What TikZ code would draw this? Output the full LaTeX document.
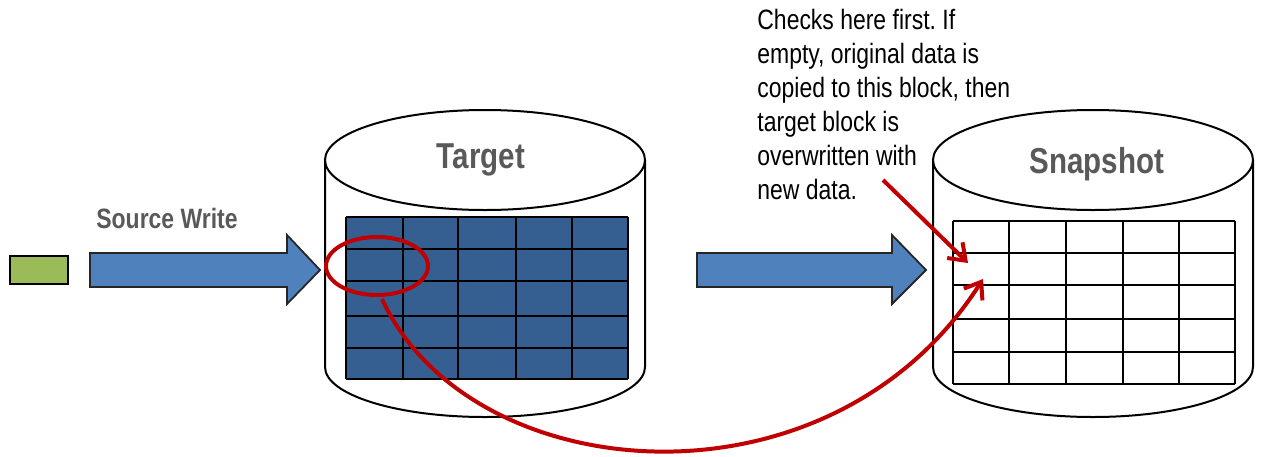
\documentclass[tikz,border=0pt]{standalone}
\usepackage{fontspec}
\setmainfont{Liberation Sans}[FakeStretch=0.82]
\frenchspacing
\usetikzlibrary{arrows.meta,shapes.geometric}
\definecolor{arrowblue}{HTML}{4F81BD}
\definecolor{cellblue}{HTML}{365F91}
\definecolor{boxgreen}{HTML}{9BBB59}
\definecolor{markred}{HTML}{C00000}
\definecolor{labelgray}{HTML}{595959}
\begin{document}
\begin{tikzpicture}[x=0.5pt,y=-0.5pt,
  cyl/.style={draw=black,line width=1pt,fill=white},
  gridline/.style={draw=black,line width=1pt},
  bluearrow/.style={draw=black!85,line width=0.9pt,fill=arrowblue,line join=miter},
  redline/.style={draw=markred,line width=2pt},
  redtip/.style={-{Straight Barb[length=7.5pt,width=11pt,line width=2pt]}},
  biglabel/.style={text=labelgray,font=\fontsize{18}{21}\selectfont\bfseries,inner sep=0},
  smalllabel/.style={text=labelgray,font=\fontsize{14}{17}\selectfont\bfseries,inner sep=0},
  notetext/.style={font=\fontsize{14}{17}\selectfont,align=left,inner sep=0,text=black}]
\useasboundingbox (0,0) rectangle (1264,456);

% green source block
\node[draw=black,line width=0.8pt,fill=boxgreen,minimum width=29pt,minimum height=14pt,inner sep=0] (src) at (39,270) {};

% source write arrow
\draw[bluearrow] (90,253) -- (287,253) -- (287,235) -- (320,270) -- (287,304) -- (287,287) -- (90,287) -- cycle;
\node[smalllabel,anchor=base] (srclabel) at (167,228) {Source Write};

% Target cylinder
\draw[cyl] (325,160) -- (325,367) arc[start angle=180,end angle=0,x radius=160,y radius=50] -- (645,160);
\draw[cyl] (485,160) ellipse[x radius=160,y radius=50];
\node[biglabel,anchor=base] (tlabel) at (481,168) {Target};
\fill[cellblue] (346,217) rectangle (628,379);
\foreach \x in {346,403,458,516,572,628} \draw[gridline] (\x,217) -- (\x,379);
\foreach \y in {217,249,281,316,348,379} \draw[gridline] (346,\y) -- (628,\y);

% middle arrow
\draw[bluearrow] (697,253) -- (892,253) -- (892,235) -- (926,270) -- (892,304) -- (892,287) -- (697,287) -- cycle;

% Snapshot cylinder
\draw[cyl] (933,160) -- (933,367) arc[start angle=180,end angle=0,x radius=160,y radius=50] -- (1253,160);
\draw[cyl] (1093,160) ellipse[x radius=160,y radius=50];
\node[biglabel,anchor=base] (slabel) at (1097,173) {Snapshot};
\foreach \x in {953,1009,1066,1123,1179,1235} \draw[gridline] (\x,221) -- (\x,384);
\foreach \y in {221,253,285,319,352,384} \draw[gridline] (953,\y) -- (1235,\y);

% note text
\node[notetext,anchor=north west] (note) at (757,9) {Checks here first. If\\empty, original data is\\copied to this block, then\\target block is\\overwritten with\\new data.};

% red markings
\node[draw=markred,line width=2pt,ellipse,minimum width=51pt,minimum height=29pt,inner sep=0] (sel) at (377,266) {};
\coordinate (curvestart) at (382,299);
\coordinate (copytip) at (983,279);
\coordinate (notestart) at (883,180);
\coordinate (checktip) at (968,263);
\draw[redline,redtip] (curvestart) .. controls (470,490) and (830,520) .. (copytip);
\draw[redline,redtip] (notestart) -- (checktip);
\end{tikzpicture}
\end{document}
